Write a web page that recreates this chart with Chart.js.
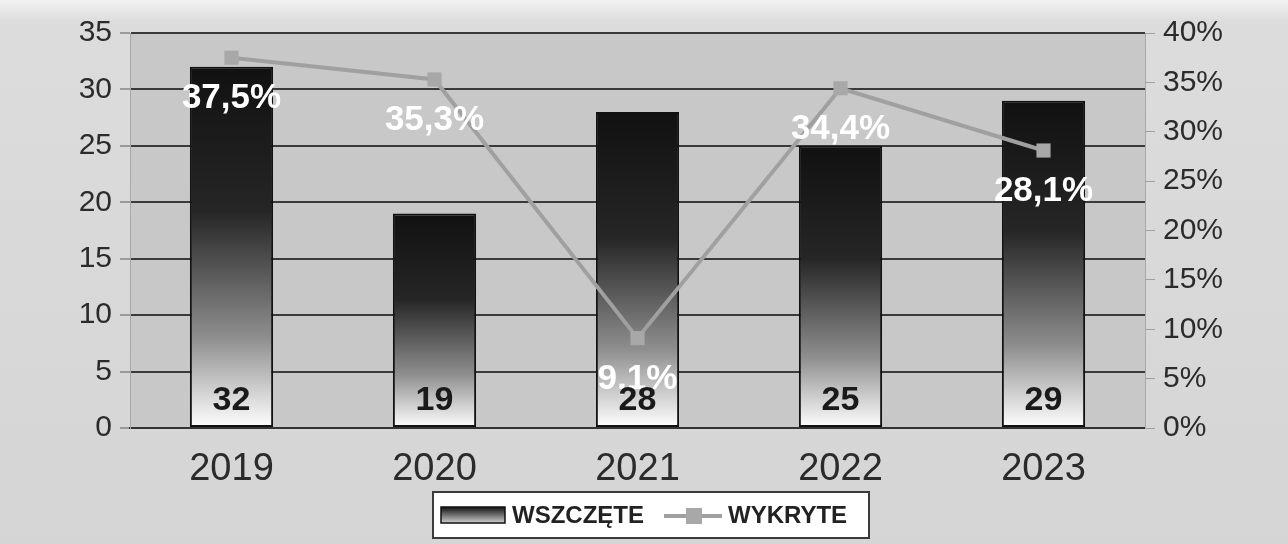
<!DOCTYPE html>
<html>
<head>
<meta charset="utf-8">
<script src="https://cdn.jsdelivr.net/npm/chart.js@4"></script>
<style>
  html, body { margin: 0; padding: 0; background: #d6d6d6; }
  #wrap { width: 1288px; height: 544px; }
</style>
</head>
<body>
<div id="wrap"><canvas id="chart" width="1288" height="544"></canvas></div>
<script>
'use strict';

// Dane z wykresu
const years     = ['2019', '2020', '2021', '2022', '2023'];
const wszczete  = [32, 19, 28, 25, 29];
const wykryte   = [37.5, 35.3, 9.1, 34.4, 28.1];
const leftTicks  = [0, 5, 10, 15, 20, 25, 30, 35];
const rightTicks = [0, 5, 10, 15, 20, 25, 30, 35, 40];

const FONT = "'Liberation Sans', Arial, sans-serif";
Chart.defaults.font.family = FONT;
Chart.defaults.color = '#2b2b2b';

const fmtPct = v => v.toFixed(1).replace('.', ',') + '%';

// gradient per bar: dark at top -> white at bottom
function barGradient(ctx) {
  const chart = ctx.chart;
  if (!chart.chartArea || ctx.type !== 'data') return '#222';
  const y = chart.scales.y;
  const top = y.getPixelForValue(ctx.raw);
  const bottom = y.getPixelForValue(0);
  const g = chart.ctx.createLinearGradient(0, top, 0, bottom);
  g.addColorStop(0, '#111111');
  g.addColorStop(0.4, '#262626');
  g.addColorStop(0.75, '#8e8e8e');
  g.addColorStop(1, '#ffffff');
  return g;
}

// tło wykresu i obszaru kreślenia
const backdrop = {
  id: 'backdrop',
  beforeDraw(chart) {
    const { ctx, chartArea: a, width, height } = chart;
    ctx.save();
    const g = ctx.createLinearGradient(0, 0, 0, height);
    g.addColorStop(0, '#f2f2f2');
    g.addColorStop(0.04, '#dcdcdc');
    g.addColorStop(1, '#d5d5d5');
    ctx.fillStyle = g;
    ctx.fillRect(0, 0, width, height);
    ctx.fillStyle = '#c8c8c8';
    ctx.fillRect(a.left, a.top, a.right - a.left, a.bottom - a.top);
    ctx.restore();
  }
};

// etykiety danych (bez pluginu datalabels)
const valueLabels = {
  id: 'valueLabels',
  afterDatasetsDraw(chart) {
    const ctx = chart.ctx;
    ctx.save();
    ctx.textAlign = 'center';
    ctx.textBaseline = 'middle';

    // procenty - białe, pod punktem
    ctx.font = 'bold 35px ' + FONT;
    ctx.fillStyle = '#ffffff';
    chart.getDatasetMeta(1).data.forEach((pt, i) => {
      ctx.fillText(fmtPct(wykryte[i]), pt.x, pt.y + 41);
    });

    // liczby - czarne, przy podstawie słupka
    ctx.font = 'bold 34px ' + FONT;
    ctx.fillStyle = '#1a1a1a';
    const base = chart.scales.y.getPixelForValue(0);
    chart.getDatasetMeta(0).data.forEach((bar, i) => {
      ctx.fillText(String(wszczete[i]), bar.x, base - 27);
    });
    ctx.restore();
  }
};

// legenda w ramce
const boxLegend = {
  id: 'boxLegend',
  afterDraw(chart) {
    const ctx = chart.ctx;
    ctx.save();
    ctx.fillStyle = '#ffffff';
    ctx.fillRect(433, 492, 436, 46);
    ctx.strokeStyle = '#3a3a3a';
    ctx.lineWidth = 2;
    ctx.strokeRect(433, 492, 436, 46);

    // próbka słupka
    const g = ctx.createLinearGradient(0, 507, 0, 523);
    g.addColorStop(0, '#111');
    g.addColorStop(1, '#cfcfcf');
    ctx.fillStyle = g;
    ctx.fillRect(441, 507, 64, 16);
    ctx.strokeStyle = '#111';
    ctx.lineWidth = 1.5;
    ctx.strokeRect(441, 507, 64, 16);

    ctx.font = 'bold 24px ' + FONT;
    ctx.fillStyle = '#222';
    ctx.textBaseline = 'middle';
    ctx.textAlign = 'left';
    ctx.fillText('WSZCZĘTE', 512, 516);

    // próbka linii
    ctx.strokeStyle = '#a0a0a0';
    ctx.lineWidth = 4;
    ctx.beginPath();
    ctx.moveTo(664, 516);
    ctx.lineTo(722, 516);
    ctx.stroke();
    ctx.fillStyle = '#a8a8a8';
    ctx.fillRect(686, 508, 16, 16);

    ctx.fillStyle = '#222';
    ctx.fillText('WYKRYTE', 728, 516);
    ctx.restore();
  }
};

new Chart(document.getElementById('chart').getContext('2d'), {
  data: {
    labels: years,
    datasets: [
      {
        type: 'bar',
        label: 'WSZCZĘTE',
        data: wszczete,
        yAxisID: 'y',
        backgroundColor: barGradient,
        borderColor: '#111',
        borderWidth: 2,
        borderSkipped: false,
        categoryPercentage: 1,
        barPercentage: 0.41,
        order: 1
      },
      {
        type: 'line',
        label: 'WYKRYTE',
        data: wykryte,
        yAxisID: 'y1',
        borderColor: '#a0a0a0',
        borderWidth: 4,
        pointStyle: 'rect',
        pointRadius: 10,
        pointBackgroundColor: '#a8a8a8',
        pointBorderColor: '#a8a8a8',
        pointBorderWidth: 0,
        tension: 0,
        order: 0
      }
    ]
  },
  options: {
    responsive: false,
    animation: false,
    layout: { padding: { top: 33, bottom: 56, left: 0, right: 0 } },
    plugins: {
      legend: { display: false },
      tooltip: { enabled: false }
    },
    scales: {
      x: {
        grid: { display: false, drawTicks: false },
        border: { color: '#333', width: 2 },
        ticks: { font: { size: 38 }, color: '#2b2b2b', padding: 19 },
        afterFit: s => { s.height = 60; }
      },
      y: {
        position: 'left',
        min: 0,
        max: 35,
        afterBuildTicks: s => { s.ticks = leftTicks.map(v => ({ value: v })); },
        grid: { color: '#3a3a3a', lineWidth: 2, tickColor: '#9a9a9a', tickLength: 10 },
        border: { color: '#a8a8a8', width: 1 },
        ticks: { font: { size: 30 }, color: '#2b2b2b', padding: 8 },
        afterFit: s => { s.width = 130; }
      },
      y1: {
        position: 'right',
        min: 0,
        max: 40,
        afterBuildTicks: s => { s.ticks = rightTicks.map(v => ({ value: v })); },
        grid: { drawOnChartArea: false, tickColor: '#a0a0a0', tickLength: 10 },
        border: { color: '#a8a8a8', width: 1 },
        ticks: { font: { size: 30 }, color: '#2b2b2b', padding: 8, callback: v => v + '%' },
        afterFit: s => { s.width = 143; }
      }
    }
  },
  plugins: [backdrop, valueLabels, boxLegend]
});
</script>
</body>
</html>
